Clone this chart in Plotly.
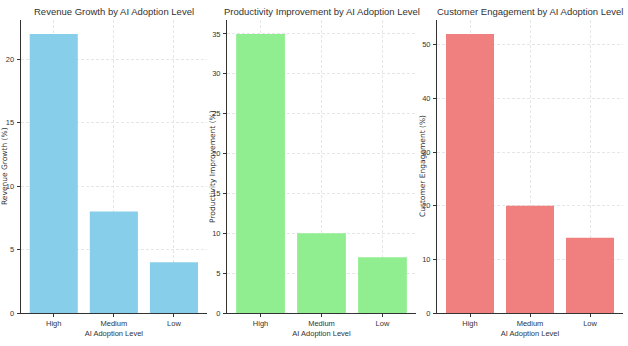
import plotly.graph_objects as go

categories = ["High", "Medium", "Low"]
revenue = [22, 8, 4]
productivity = [35, 10, 7]
engagement = [52, 20, 14]

titles = ["Revenue Growth by AI Adoption Level",
          "Productivity Improvement by AI Adoption Level",
          "Customer Engagement by AI Adoption Level"]
ylabels = ["Revenue Growth (%)", "Productivity Improvement (%)", "Customer Engagement (%)"]
colors = ["#87CEEB", "#90EE90", "#F08080"]
series = [revenue, productivity, engagement]
ytickvals = [[0, 5, 10, 15, 20], [0, 5, 10, 15, 20, 25, 30, 35], [0, 10, 20, 30, 40, 50]]

W, H = 628, 346
xdom_px = [(20.7, 207), (227, 416), (437, 623)]
ybot, ytop = 313, 20
ylabel_x = [4.5, 212.5, 422.5]

NARROW = "Liberation Sans, Arial, sans-serif"

fig = go.Figure()
annotations = []
for i in range(3):
    xa = "x" if i == 0 else f"x{i+1}"
    ya = "y" if i == 0 else f"y{i+1}"
    fig.add_trace(go.Bar(x=categories, y=series[i], marker_color=colors[i],
                         marker_line_width=0, width=0.8, xaxis=xa, yaxis=ya,
                         showlegend=False))
    vmax = max(series[i])
    common = dict(showline=True, linecolor="#333333", linewidth=1,
                  ticks="outside", ticklen=3, tickcolor="#333333",
                  showgrid=True, gridcolor="#e6e6e6", griddash="3px,2px", gridwidth=1,
                  zeroline=False, automargin=False,
                  tickfont=dict(family=NARROW, size=7.5, color="#333333"))
    x0, x1 = xdom_px[i]
    fig.layout[f"xaxis{'' if i == 0 else i+1}"] = dict(
        domain=[x0 / W, x1 / W], anchor=ya, range=[-0.55, 2.55],
        title=dict(text="AI Adoption Level", font=dict(family=NARROW, size=7.5, color="#333333"), standoff=3),
        **common)
    fig.layout[f"yaxis{'' if i == 0 else i+1}"] = dict(
        domain=[1 - ybot / H, 1 - ytop / H], anchor=xa, range=[0, vmax * 1.05],
        tickvals=ytickvals[i], ticklabelstandoff=1, **common)
    annotations.append(dict(text=titles[i], x=(x0 + x1) / 2 / W, y=1 - 12 / H,
                            xref="paper", yref="paper", showarrow=False,
                            xanchor="center", yanchor="middle",
                            font=dict(family=NARROW, size=9.5, color="#333333")))
    annotations.append(dict(text=ylabels[i], x=ylabel_x[i] / W, y=(1 - (ybot + ytop) / 2 / H),
                            xref="paper", yref="paper", showarrow=False, textangle=-90,
                            xanchor="center", yanchor="middle",
                            font=dict(family="DejaVu Sans", size=7.5, color="#333333")))

fig.update_layout(width=W, height=H, margin=dict(l=0, r=0, t=0, b=0),
                  plot_bgcolor="white", paper_bgcolor="white",
                  annotations=annotations, bargap=0.2)
fig.write_html("out.html")
